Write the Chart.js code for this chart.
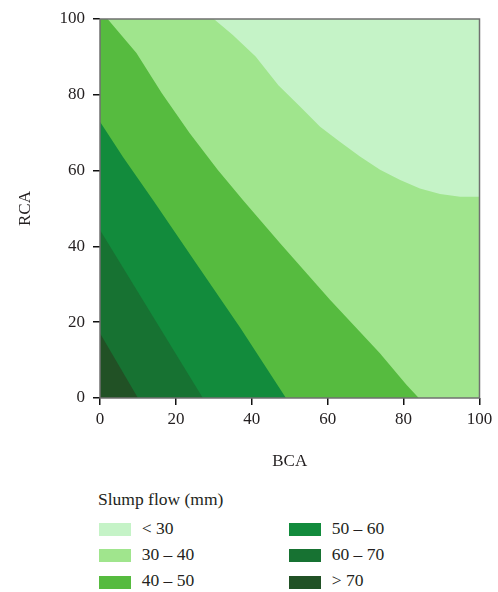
<!DOCTYPE html>
<html><head><meta charset="utf-8">
<script src="https://cdn.jsdelivr.net/npm/chart.js@4"></script>
<style>
body{margin:0;background:#fff;width:498px;height:592px;overflow:hidden;position:relative;font-family:"Liberation Serif",serif;color:#231f20}
#wrap{position:absolute;left:0;top:0;width:498px;height:480px}
.lg{position:absolute;font-size:17.5px;line-height:1;white-space:nowrap;color:#231f20}
.box{position:absolute;width:32px;height:13px}
</style></head><body>
<div id="wrap"><canvas id="c"></canvas></div>
<div id="legend"></div>
<script>
// ---- data ----
const xTitle = 'BCA';
const yTitle = 'RCA';
const legendTitle = 'Slump flow (mm)';
const categories = ['< 30', '30 – 40', '40 – 50', '50 – 60', '60 – 70', '> 70'];
const colors = ['#c5f3c7', '#a0e58d', '#56bb3f', '#128b3c', '#177232', '#215125'];
const tickValues = [0, 20, 40, 60, 80, 100];
// upper boundary (x = BCA, y = RCA) of each slump-flow band; region below the curve belongs to the band
const boundLt30 = [[0,100],[100,100]];
const bound30to40 = [[0,100],[30,100],[35,95.8],[41,90.1],[47,82.5],[52.7,76.9],[58,71.6],[63.2,67.6],[68.5,63.7],[73.8,60.2],[79.1,57.5],[84.3,55.3],[89.6,53.8],[94.9,53.1],[100,53.1]];
const bound40to50 = [[0,100],[2,100],[9.6,91],[16.3,80.4],[23.6,69.9],[31,60.2],[37.7,52.2],[47.4,40.9],[60.6,25.9],[73.7,11.9],[80.8,3.4],[84,0]];
const bound50to60 = [[0,72.9],[6.1,63.5],[14,52.2],[25,36],[37,18.5],[49,0]];
const bound60to70 = [[0,44.3],[10.4,27.3],[27.1,0]];
const boundGt70 = [[0,17.1],[10,0]];
const bounds = [boundLt30, bound30to40, bound40to50, bound50to60, bound60to70, boundGt70];

// ---- chart ----
const FONT = '"Liberation Serif", serif';
const TXT = '#231f20';
const datasets = bounds.map((b, i) => ({
  label: categories[i],
  data: b.map(([x, y]) => ({x, y})),
  backgroundColor: colors[i],
  borderColor: 'rgba(0,0,0,0)',
  borderWidth: 0,
  pointRadius: 0,
  tension: 0,
  fill: 'origin',
  order: bounds.length - i
}));

const framePlugin = {
  id: 'frame',
  afterDatasetsDraw(chart) {
    const {ctx, chartArea: a} = chart;
    ctx.save();
    ctx.strokeStyle = '#707070';
    ctx.lineWidth = 1.5;
    ctx.strokeRect(a.left, a.top, a.right - a.left, a.bottom - a.top);
    ctx.restore();
  }
};

new Chart(document.getElementById('c'), {
  type: 'line',
  data: {datasets},
  options: {
    responsive: true,
    maintainAspectRatio: false,
    animation: false,
    events: [],
    layout: {padding: {top: 19, right: 18.5, left: 0, bottom: 0}},
    plugins: {legend: {display: false}, tooltip: {enabled: false}},
    scales: {
      x: {
        type: 'linear', min: 0, max: 100,
        afterBuildTicks: s => { s.ticks = tickValues.map(v => ({value: v})); },
        afterFit: s => { s.height = 82; },
        grid: {drawOnChartArea: false, drawTicks: true, tickLength: 7, color: '#111', lineWidth: 1.5},
        border: {display: false},
        ticks: {font: {family: FONT, size: 17}, color: TXT, padding: 4, maxRotation: 0},
        title: {display: true, text: xTitle, font: {family: FONT, size: 17}, color: TXT, padding: {top: 0, bottom: 8}}
      },
      y: {
        type: 'linear', min: 0, max: 100,
        afterBuildTicks: s => { s.ticks = tickValues.map(v => ({value: v})); },
        afterFit: s => { s.width = 100; },
        grid: {drawOnChartArea: false, drawTicks: true, tickLength: 7, color: '#111', lineWidth: 1.5},
        border: {display: false},
        ticks: {font: {family: FONT, size: 17}, color: TXT, padding: 8},
        title: {display: true, text: yTitle, font: {family: FONT, size: 17}, color: TXT, padding: {top: 15, bottom: 0}}
      }
    }
  },
  plugins: [framePlugin]
});

// ---- legend (HTML, built from the arrays) ----
const lg = document.getElementById('legend');
const BASE = 14.65; // baseline offset for line-height:1 at 17.5px
function addText(txt, left, baseline) {
  const d = document.createElement('div');
  d.className = 'lg';
  d.style.left = left + 'px';
  d.style.top = (baseline - BASE) + 'px';
  d.textContent = txt;
  lg.appendChild(d);
}
addText(legendTitle, 98, 505.5);
const rowTops = [523, 549.3, 575.6];
categories.forEach((c, i) => {
  const col = Math.floor(i / 3), row = i % 3;
  const bx = col === 0 ? 99 : 289;
  const b = document.createElement('div');
  b.className = 'box';
  b.style.left = bx + 'px';
  b.style.top = rowTops[row] + 'px';
  b.style.background = colors[i];
  lg.appendChild(b);
  addText(c, bx + 42.7, rowTops[row] + 11.5);
});
</script>
</body></html>
